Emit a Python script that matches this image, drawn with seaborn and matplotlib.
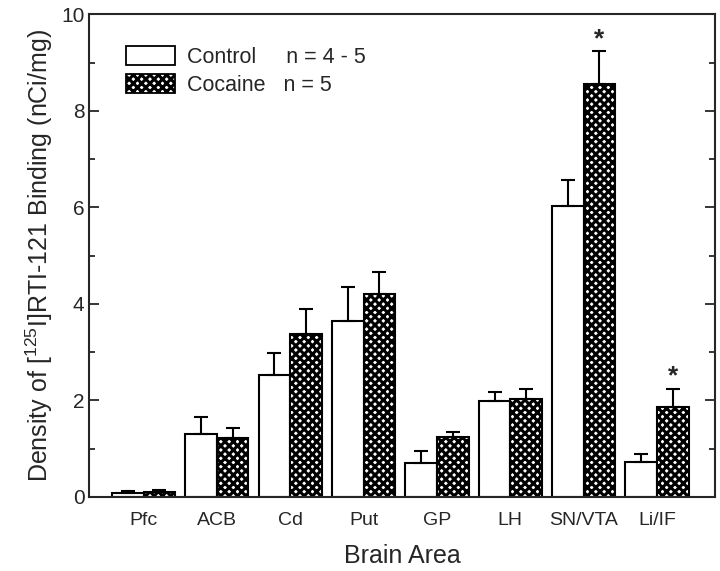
import numpy as np
import pandas as pd
import seaborn as sns
import matplotlib.pyplot as plt
from matplotlib.patches import Patch
from matplotlib.ticker import MultipleLocator

areas = ['Pfc', 'ACB', 'Cd', 'Put', 'GP', 'LH', 'SN/VTA', 'Li/IF']
control = [0.08, 1.31, 2.53, 3.65, 0.71, 1.98, 6.03, 0.73]
control_err = [0.03, 0.34, 0.44, 0.70, 0.23, 0.20, 0.54, 0.16]
cocaine = [0.10, 1.22, 3.38, 4.20, 1.24, 2.02, 8.55, 1.87]
cocaine_err = [0.03, 0.20, 0.52, 0.45, 0.10, 0.22, 0.68, 0.37]
signif = ['', '', '', '', '', '', '*', '*']

sns.set_style('ticks')
plt.rcParams['font.family'] = ['Liberation Sans', 'DejaVu Sans']
plt.rcParams['mathtext.fontset'] = 'custom'
plt.rcParams['mathtext.rm'] = 'Liberation Sans'
plt.rcParams['hatch.linewidth'] = 2.2

df = pd.DataFrame({
    'area': areas * 2,
    'group': ['Control'] * len(areas) + ['Cocaine'] * len(areas),
    'value': control + cocaine,
})

fig = plt.figure(figsize=(7.2, 5.71), dpi=100)
ax = fig.add_axes([0.124, 0.130, 0.869, 0.845])
sns.barplot(data=df, x='area', y='value', hue='group', order=areas,
            hue_order=['Control', 'Cocaine'], palette=['white', 'white'],
            width=0.86, edgecolor='black', linewidth=1.5, errorbar=None,
            legend=False, ax=ax)

errs = [control_err, cocaine_err]
vals = [control, cocaine]
bar_sets = list(ax.containers)
centers = []
for k, cont in enumerate(bar_sets):
    xs = [p.get_x() + p.get_width() / 2 for p in cont.patches]
    centers.append(xs)
    if k == 1:
        for p in cont.patches:
            p.set_hatch('xxxx')
    ax.errorbar(xs, vals[k], yerr=[np.zeros(len(xs)), errs[k]], fmt='none',
                ecolor='black', elinewidth=1.5, capsize=5, capthick=1.5, zorder=3)

# significance stars over cocaine bars
for x, v, e, s in zip(centers[1], cocaine, cocaine_err, signif):
    if s:
        ax.text(x, v + e, s, ha='center', va='bottom', fontsize=19, fontweight='bold')

ax.set_xlim(-0.74, 7.79)
ax.set_ylim(0, 10)
ax.yaxis.set_major_locator(MultipleLocator(2))
ax.yaxis.set_minor_locator(MultipleLocator(1))
ax.tick_params(axis='y', which='both', direction='in', right=True, labelsize=15, width=1.3)
ax.tick_params(axis='y', which='major', length=7)
ax.tick_params(axis='y', which='minor', length=4)
ax.tick_params(axis='x', length=0, labelsize=14, pad=11)
for sp in ax.spines.values():
    sp.set_linewidth(1.5)

ax.set_xlabel('Brain Area', fontsize=18, labelpad=11)
ax.set_ylabel(r'Density of [$^{125}$I]RTI-121 Binding (nCi/mg)', fontsize=18, labelpad=4)

handles = [Patch(facecolor='white', edgecolor='black', linewidth=1.3),
           Patch(facecolor='white', edgecolor='black', linewidth=1.3, hatch='xxxx')]
ax.legend(handles, ['Control     n = 4 - 5', 'Cocaine   n = 5'], loc='upper left',
          bbox_to_anchor=(0.027, 0.975), frameon=False, fontsize=15.5,
          handlelength=2.3, handleheight=1.0, handletextpad=0.55, labelspacing=0.3)

fig.savefig('out.png', dpi=100)
